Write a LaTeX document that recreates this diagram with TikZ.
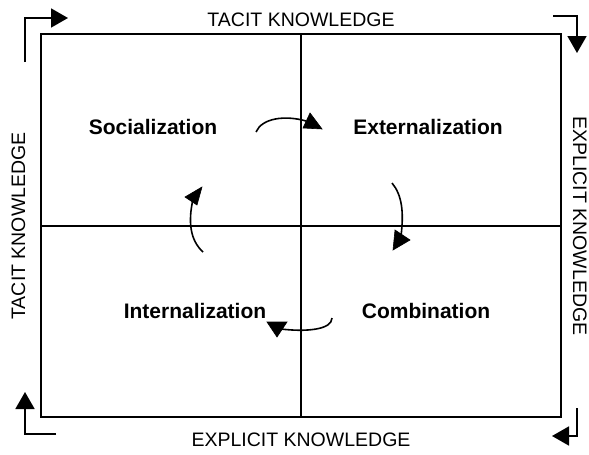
\documentclass[tikz,border=0pt]{standalone}
\usepackage{fontspec}
\setmainfont{Liberation Sans}
\usetikzlibrary{arrows.meta}
\begin{document}
\begin{tikzpicture}[x=1pt,y=-1pt,
  frame/.style={line width=1.6pt},
  axis/.style={font=\fontsize{19.5}{22}\selectfont,anchor=base,inner sep=0pt},
  quad/.style={font=\bfseries\fontsize{21}{24}\selectfont,anchor=base,inner sep=0pt},
  cornerarrow/.style={line width=1.8pt,-{Triangle[length=17pt,width=19pt]}},
  cyc/.style={line width=1.6pt},
  head/.style={fill=black,draw=black,line width=0.6pt,line join=miter}]
\useasboundingbox (0,0) rectangle (589,455);
\coordinate (tl) at (41,34);
\coordinate (br) at (561,417);
\draw[frame] (tl) rectangle (br);
\draw[frame] (301,34) -- (301,417);
\draw[frame] (41,226) -- (561,226);
% axis labels
\node[axis] (top) at (301,26) {TACIT KNOWLEDGE};
\node[axis] (bot) at (301,446) {EXPLICIT KNOWLEDGE};
\node[axis,rotate=90] (left) at (25,226) {TACIT KNOWLEDGE};
\node[axis,rotate=-90] (right) at (573,226) {EXPLICIT KNOWLEDGE};
% quadrant labels
\node[quad] (soc) at (153,134) {Socialization};
\node[quad] (ext) at (428,134) {Externalization};
\node[quad] (int) at (195,318) {Internalization};
\node[quad] (com) at (426,318) {Combination};
% corner arrows
\coordinate (a1) at (25,62);
\coordinate (a2) at (68,18);
\draw[cornerarrow] (a1) |- (a2);
\coordinate (b1) at (553,16);
\coordinate (b2) at (577,53);
\draw[cornerarrow] (b1) -| (b2);
\coordinate (c1) at (577,408);
\coordinate (c2) at (552,436);
\draw[cornerarrow] (c1) |- (c2);
\coordinate (d1) at (56,434);
\coordinate (d2) at (25,392);
\draw[cornerarrow] (d1) -| (d2);
% cycle arrows
\draw[cyc] (256,132) .. controls (262,118) and (285,115) .. (306,121);
\filldraw[head] (310,113) -- (303,128) -- (322,129) -- cycle;
\draw[cyc] (392,183) .. controls (402,195) and (404,212) .. (401,236);
\filldraw[head] (395,230) -- (410,240) -- (393,250) -- cycle;
\draw[cyc] (332,318) .. controls (332,330) and (305,332) .. (281,329);
\filldraw[head] (267,322) -- (287,322) -- (277,337) -- cycle;
\draw[cyc] (203,252) .. controls (190,240) and (188,222) .. (193,199);
\filldraw[head] (185,197) -- (202,187) -- (197,205) -- cycle;
\end{tikzpicture}
\end{document}
